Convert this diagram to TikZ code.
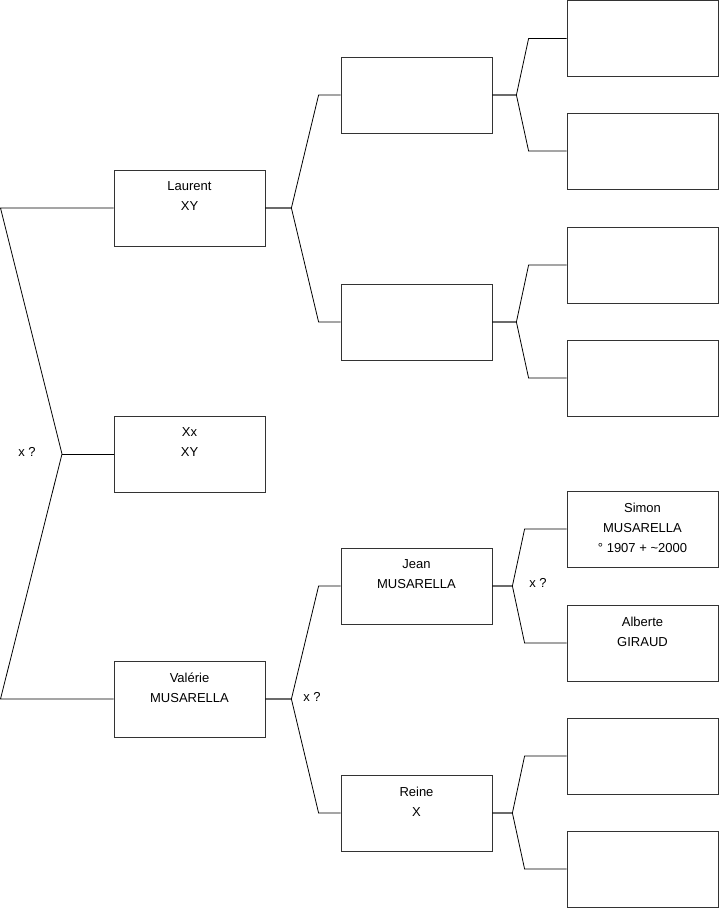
\documentclass[tikz,border=0pt]{standalone}
\usepackage{fontspec}
\setmainfont{Liberation Sans}
\usetikzlibrary{positioning}

\begin{document}
\begin{tikzpicture}[x=1pt, y=-1pt,
    box/.style={draw=black!80, line width=0.8pt, minimum width=151pt, minimum height=76pt, inner sep=0pt},
    txt/.style={anchor=north, align=center, font=\fontsize{13}{20}\selectfont, inner sep=0pt, yshift=-12pt},
    link/.style={line width=0.8pt},
    note/.style={font=\fontsize{13}{20}\selectfont}
]
    \useasboundingbox (0,0) rectangle (719,908);

    % generation 1
    \node (laurent) [box, label={[txt]north:Laurent\\XY}] at (189.5,208) {};
    \node (xx) [box, label={[txt]north:Xx\\XY}] at (189.5,454) {};
    \node (valerie) [box, label={[txt]north:Valérie\\MUSARELLA}] at (189.5,699) {};

    % generation 2
    \node (p1) [box] at (416.5,95) {};
    \node (p2) [box] at (416.5,322) {};
    \node (jean) [box, label={[txt]north:Jean\\MUSARELLA}] at (416.5,586) {};
    \node (reine) [box, label={[txt]north:Reine\\X}] at (416.5,813) {};

    % generation 3
    \node (g1) [box] at (642.5,38.5) {};
    \node (g2) [box] at (642.5,151) {};
    \node (g3) [box] at (642.5,265) {};
    \node (g4) [box] at (642.5,378) {};
    \node (simon) [box, label={[txt]north:Simon\\MUSARELLA\\° 1907 + \textasciitilde2000}] at (642.5,529) {};
    \node (alberte) [box, label={[txt]north:Alberte\\GIRAUD}] at (642.5,643) {};
    \node (g7) [box] at (642.5,756) {};
    \node (g8) [box] at (642.5,869) {};

    % root fork
    \coordinate (top) at (0.5,208);
    \coordinate (fork) at (62,454);
    \coordinate (bot) at (0.5,699);
    \draw [link] (laurent.west) -- (top) -- (fork) -- (bot) -- (valerie.west);
    \draw [link] (fork) -- (xx.west);
    \node [note] at (27,452) {x ?};

    % gen 1 -> gen 2
    \draw [link] (laurent.east) -- ++(26,0) -- ([xshift=-22pt]p1.west) -- (p1.west);
    \draw [link] (laurent.east) -- ++(26,0) -- ([xshift=-22pt]p2.west) -- (p2.west);
    \draw [link] (valerie.east) -- ++(26,0) -- ([xshift=-22pt]jean.west) -- (jean.west);
    \draw [link] (valerie.east) -- ++(26,0) -- ([xshift=-22pt]reine.west) -- (reine.west);
    \node [note] at (312,697) {x ?};

    % gen 2 -> gen 3
    \draw [link] (p1.east) -- ++(24,0) -- ([xshift=-38pt]g1.west) -- (g1.west);
    \draw [link] (p1.east) -- ++(24,0) -- ([xshift=-38pt]g2.west) -- (g2.west);
    \draw [link] (p2.east) -- ++(24,0) -- ([xshift=-38pt]g3.west) -- (g3.west);
    \draw [link] (p2.east) -- ++(24,0) -- ([xshift=-38pt]g4.west) -- (g4.west);
    \draw [link] (jean.east) -- ++(20,0) -- ([xshift=-42pt]simon.west) -- (simon.west);
    \draw [link] (jean.east) -- ++(20,0) -- ([xshift=-42pt]alberte.west) -- (alberte.west);
    \node [note] at (538,583) {x ?};
    \draw [link] (reine.east) -- ++(20,0) -- ([xshift=-42pt]g7.west) -- (g7.west);
    \draw [link] (reine.east) -- ++(20,0) -- ([xshift=-42pt]g8.west) -- (g8.west);
\end{tikzpicture}
\end{document}
